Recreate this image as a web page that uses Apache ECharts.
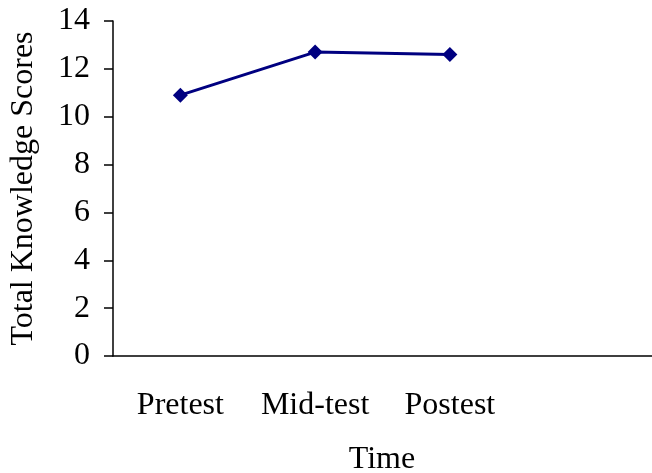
<!DOCTYPE html>
<html><head><meta charset="utf-8">
<script src="https://cdn.jsdelivr.net/npm/echarts@6/dist/echarts.min.js"></script>
<style>html,body{margin:0;padding:0;background:#fff}#c{width:652px;height:473px}</style>
</head><body><div id="c"></div>
<script>
var categories = ['Pretest', 'Mid-test', 'Postest', ''];
var scores = [10.9, 12.7, 12.6, null];
var yTicks = {min: 0, max: 14, interval: 2};

var chart = echarts.init(document.getElementById('c'));
var font = '"Liberation Serif", "Times New Roman", serif';
chart.setOption({
  animation: false,
  textStyle: {fontFamily: font},
  grid: {left: 113, top: 21, width: 546, bottom: 117, containLabel: false},
  xAxis: {
    type: 'category',
    data: categories,
    boundaryGap: true,
    axisLine: {lineStyle: {color: '#000', width: 1.5}},
    axisTick: {show: false},
    axisLabel: {color: '#000', fontSize: 32, fontFamily: font, margin: 34, interval: 0}
  },
  yAxis: {
    type: 'value',
    min: yTicks.min, max: yTicks.max, interval: yTicks.interval,
    name: 'Total Knowledge Scores',
    nameLocation: 'middle',
    nameGap: 73,
    nameTextStyle: {color: '#000', fontSize: 32, fontFamily: font},
    axisLine: {show: true, lineStyle: {color: '#000', width: 1.5}},
    axisTick: {show: true, length: 9, lineStyle: {color: '#000', width: 1.5}},
    axisLabel: {color: '#000', fontSize: 32, fontFamily: font, margin: 23},
    splitLine: {show: false}
  },
  graphic: [{
    type: 'text', x: 382, y: 444,
    style: {text: 'Time', font: '32px ' + font, fill: '#000', textAlign: 'center'}
  }],
  series: [{
    type: 'line',
    data: scores,
    symbol: 'diamond',
    symbolSize: 15,
    lineStyle: {color: '#000080', width: 3},
    itemStyle: {color: '#000080'}
  }]
});
</script></body></html>
